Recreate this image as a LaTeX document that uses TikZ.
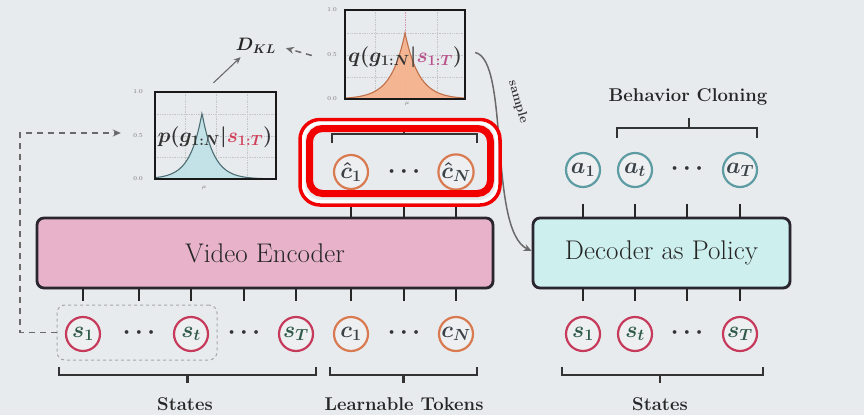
\RequirePackage{fix-cm}
\documentclass[tikz,border=0pt]{standalone}
\usepackage{bm}
\usetikzlibrary{arrows.meta,shadows}
\definecolor{bgcol}{HTML}{E8EBEE}
\definecolor{tokfill}{HTML}{EDEFF1}
\definecolor{sred}{HTML}{C63A5C}
\definecolor{sgreen}{HTML}{2F5A48}
\definecolor{corange}{HTML}{D97A50}
\definecolor{ateal}{HTML}{5E9CA4}
\definecolor{toktext}{HTML}{3A4248}
\definecolor{encfill}{HTML}{E8B3CA}
\definecolor{decfill}{HTML}{CDEFEE}
\definecolor{boxline}{HTML}{2A2630}
\definecolor{pfill}{HTML}{BFE2E8}
\definecolor{pline}{HTML}{4D6E74}
\definecolor{qfill}{HTML}{F5B38F}
\definecolor{qline}{HTML}{C07048}
\definecolor{condred}{HTML}{D0405A}
\definecolor{condpink}{HTML}{B8508A}
\definecolor{hired}{HTML}{F20000}
\definecolor{arrowgray}{HTML}{6A6A6A}
\begin{document}
\begin{tikzpicture}[x=1pt,y=-1pt,
  tok/.style={circle, minimum size=34pt, inner sep=0pt, line width=2.2pt, fill=tokfill,
    font=\fontsize{23}{24}\selectfont\boldmath},
  stok/.style={tok, draw=sred, text=sgreen},
  ctok/.style={tok, draw=corange, text=toktext},
  atok/.style={tok, draw=ateal, text=toktext},
  dotsnode/.style={inner sep=0pt, text=black!80, font=\fontsize{24}{24}\selectfont\boldmath},
  stub/.style={line width=1.8pt, draw=black!85},
  brk/.style={line width=2.2pt, draw=black!80},
  blk/.style={rectangle, rounded corners=7pt, line width=2.8pt, draw=boxline,
    text=black!85, font=\fontsize{27}{28}\selectfont,
    drop shadow={shadow xshift=1.5pt, shadow yshift=-1.5pt, opacity=0.25}},
  lbl/.style={font=\fontsize{18.5}{20}\selectfont\bfseries, text=black!85},
  plotframe/.style={draw=black!90, line width=2.4pt, inner sep=0pt},
  gridln/.style={gray!45, densely dotted, line width=0.7pt},
  ticklbl/.style={font=\fontsize{6}{6}\selectfont, text=black!55, inner sep=0pt},
  dasharrow/.style={draw=arrowgray, line width=1.5pt, dash pattern=on 6pt off 5pt,
    -{Stealth[length=8pt,width=7pt]}},
  thinarrow/.style={draw=arrowgray, line width=1.1pt, -{Stealth[length=7pt,width=6pt]}},
  samplearrow/.style={draw=arrowgray, line width=1.5pt, -{Stealth[length=8pt,width=7pt]}}
]
\fill[bgcol] (0,0) rectangle (864,415);
\useasboundingbox (0,0) rectangle (864,415);

% ---- encoder and decoder blocks
\node[blk, fill=encfill, minimum width=456pt, minimum height=70pt] (enc) at (265,253) {Video Encoder};
\node[blk, fill=decfill, minimum width=257pt, minimum height=70pt] (dec) at (661.5,253) {Decoder as Policy};

% ---- input tokens of the encoder
\node[stok] (s1) at (83,334) {$s_1$};
\node[dotsnode] (d1) at (139,333) {$\cdots$};
\node[stok] (st) at (191,334) {$s_t$};
\node[dotsnode] (d2) at (244,333) {$\cdots$};
\node[stok] (sT) at (296,334) {$s_T$};
\node[ctok] (c1) at (351,334) {$c_1$};
\node[dotsnode] (d3) at (404,333) {$\cdots$};
\node[ctok] (cN) at (456,334) {$c_N$};

% ---- input tokens of the decoder
\node[stok] (rs1) at (583,334) {$s_1$};
\node[stok] (rst) at (635,334) {$s_t$};
\node[dotsnode] (rd) at (687,333) {$\cdots$};
\node[stok] (rsT) at (740,334) {$s_T$};

% ---- predicted actions
\node[atok] (a1) at (583,170) {$a_1$};
\node[atok] (at) at (635,170) {$a_t$};
\node[dotsnode] (ad) at (687,169) {$\cdots$};
\node[atok] (aT) at (740,170) {$a_T$};

% ---- encoded latent tokens
\node[ctok] (ch1) at (351,172) {$\hat{c}_1$};
\node[dotsnode] (chd) at (404,172) {$\cdots$};
\node[ctok] (chN) at (456,172) {$\hat{c}_N$};

% ---- short stubs between blocks and tokens
\foreach \n in {s1,d1,st,d2,sT,c1,d3,cN}
  \draw[stub] (enc.south -| \n) -- ++(0,12);
\foreach \n in {ch1,chd,chN}
  \draw[stub] (enc.north -| \n) -- ++(0,-13);
\foreach \n in {rs1,rst,rd,rsT}
  \draw[stub] (dec.south -| \n) -- ++(0,12);
\foreach \n in {a1,at,ad,aT}
  \draw[stub] (dec.north -| \n) -- ++(0,-13);

% ---- brackets and their labels
\draw[brk] (59,367) -- (59,375) -- (316,375) -- (316,367);
\draw[brk] (187.5,375) -- (187.5,383);
\node[lbl] (lstates) at (185,404) {States};
\draw[brk] (330,367) -- (330,375) -- (477,375) -- (477,367);
\draw[brk] (403.5,375) -- (403.5,383);
\node[lbl] (ltokens) at (404,404) {Learnable Tokens};
\draw[brk] (562,367) -- (562,375) -- (763,375) -- (763,367);
\draw[brk] (660,375) -- (660,383);
\node[lbl] (rstates) at (660,404) {States};
\draw[brk] (617,138) -- (617,128) -- (757,128) -- (757,138);
\draw[brk] (689,128) -- (689,118);
\node[lbl] (lbc) at (688,97) {Behavior Cloning};
\draw[brk] (332,143) -- (332,134) -- (477,134) -- (477,143);
\draw[brk] (404,134) -- (404,126);

% ---- observed states grouped for the prior
\node[draw=gray!70, dashed, line width=1pt, rounded corners=8pt,
      minimum width=160pt, minimum height=55pt] (sbox) at (137,332.5) {};

% ---- prior distribution plot
\node[plotframe, minimum width=121pt, minimum height=87pt] (pplot) at (215.5,135.5) {};
\begin{scope}
  \clip (155,92) rectangle (276,179);
  \foreach \gx in {185,216,247} \draw[gridln] (\gx,92) -- (\gx,179);
  \foreach \gy in {114,136,157} \draw[gridln] (155,\gy) -- (276,\gy);
  \fill[pfill, opacity=0.9] (155,179) -- plot[domain=155:276, samples=161] (\x, {179-66*exp(-abs(\x-202)/12)}) -- (276,179) -- cycle;
  \draw[pline, line width=1.1pt] plot[domain=155:276, samples=161] (\x, {179-66*exp(-abs(\x-202)/12)});
\end{scope}
\node[plotframe, minimum width=121pt, minimum height=87pt] at (pplot) {};
\node[text=black!80, font=\fontsize{21}{22}\selectfont\boldmath] (ptext) at (215,137)
  {$p(g_{1:N}|\textcolor{condred}{s_{1:T}})$};
\node[ticklbl, anchor=east] at (143,92) {1.0};
\node[ticklbl, anchor=east] at (143,136) {0.5};
\node[ticklbl, anchor=east] at (143,179) {0.0};
\node[ticklbl] at (204,188) {$\mu$};

% ---- posterior distribution plot
\node[plotframe, minimum width=120pt, minimum height=89pt] (qplot) at (405,54.5) {};
\begin{scope}
  \clip (345,10) rectangle (465,99);
  \foreach \gx in {375,437} \draw[gridln] (\gx,10) -- (\gx,99);
  \draw[condpink!60, densely dotted, line width=0.7pt] (405,10) -- (405,99);
  \foreach \gy in {33,55,77} \draw[gridln] (345,\gy) -- (465,\gy);
  \fill[qfill, opacity=0.95] (345,99) -- plot[domain=345:465, samples=161] (\x, {99-66*exp(-abs(\x-405)/14)}) -- (465,99) -- cycle;
  \draw[qline, line width=1.1pt] plot[domain=345:465, samples=161] (\x, {99-66*exp(-abs(\x-405)/14)});
\end{scope}
\node[plotframe, minimum width=120pt, minimum height=89pt] at (qplot) {};
\node[text=black!80, font=\fontsize{21}{22}\selectfont\boldmath] (qtext) at (405,57)
  {$q(g_{1:N}|\textcolor{condpink}{s_{1:T}})$};
\node[ticklbl, anchor=east] at (337,10) {1.0};
\node[ticklbl, anchor=east] at (337,55) {0.5};
\node[ticklbl, anchor=east] at (337,99) {0.0};
\node[ticklbl] at (407,104) {$\mu$};

% ---- KL divergence between the two
\node[text=black!85, font=\fontsize{18}{20}\selectfont, inner sep=2pt] (dkl) at (256,46) {$\bm{D_{KL}}$};
\draw[thinarrow, shorten >=2pt] ([xshift=-2pt,yshift=8pt]pplot.north) -- (dkl.215);
\draw[dasharrow, shorten >=8pt] ([xshift=-32pt,yshift=-1pt]qplot.west) -- (dkl.east);

% ---- prior conditioned on the observed states
\coordinate (pin) at ([xshift=-33pt,yshift=2.5pt]pplot.west);
\draw[dasharrow] (sbox.west) -- (20,332.5) |- (pin);

% ---- sampled latent feeds the policy
\draw[samplearrow] ([xshift=9pt,yshift=2pt]qplot.east) .. controls (510,60) and (488,230) .. ([yshift=2pt]dec.west);
\node[rotate=-74, text=black!80, font=\fontsize{13}{14}\selectfont\bfseries] (samplelbl) at (518,102) {sample};

% ---- highlight around the latent tokens
\draw[hired, line width=3.5pt, rounded corners=20pt] (300,119.5) rectangle (500,205);
\draw[white, line width=3pt, rounded corners=17pt] (303.5,123) rectangle (496.5,201.5);
\draw[hired, line width=7pt, rounded corners=13pt] (309.5,128.5) rectangle (490.5,193.5);
\end{tikzpicture}
\end{document}
